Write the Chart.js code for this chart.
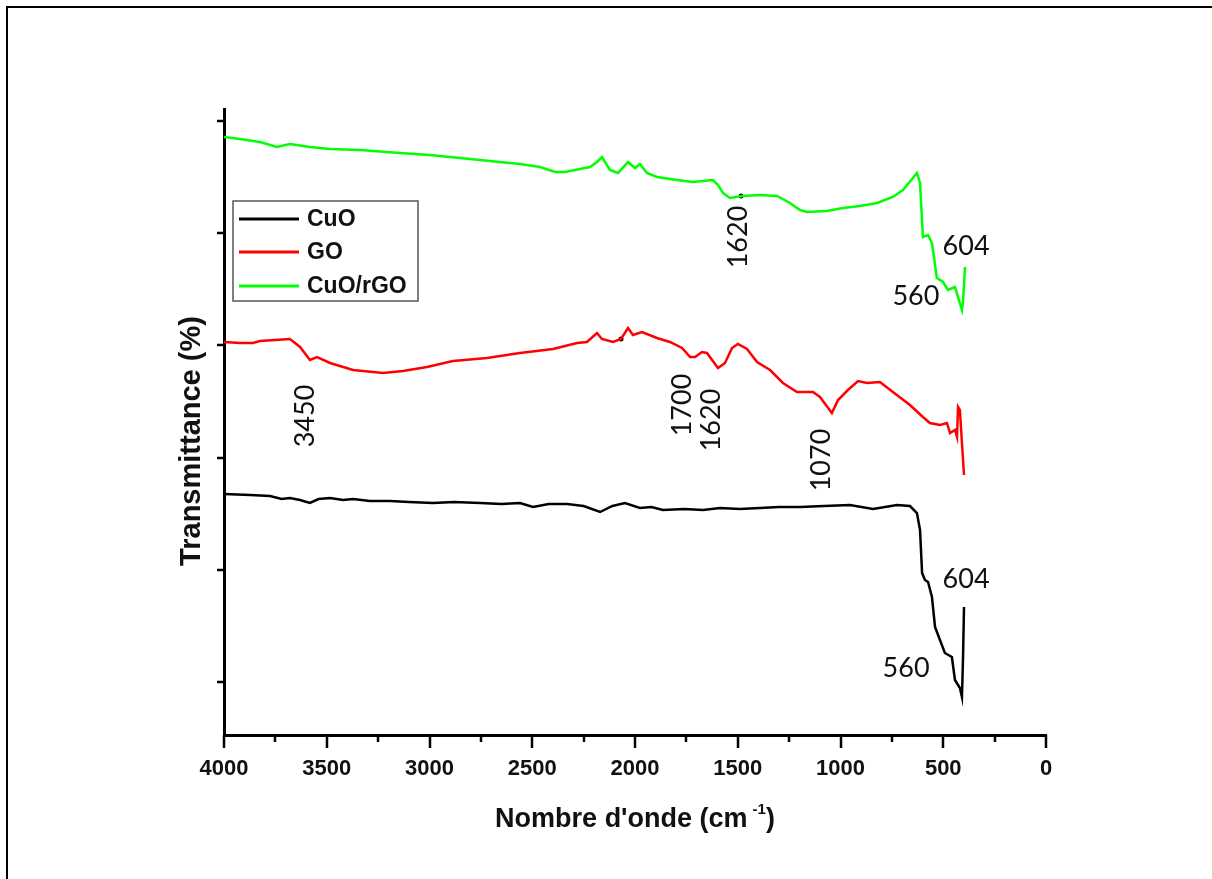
<!DOCTYPE html>
<html><head><meta charset="utf-8">
<script src="https://cdn.jsdelivr.net/npm/chart.js@4.4.1/dist/chart.umd.min.js"></script>
<style>html,body{margin:0;padding:0;background:#fff;}canvas{display:block;}</style>
</head><body>
<canvas id="c" width="1212" height="879"></canvas>
<script>
// ---- data (wavenumber in cm-1, transmittance in arbitrary offset units) ----
const seriesNames = ['CuO', 'GO', 'CuO/rGO'];
const seriesColors = ['#000000', '#ff0000', '#00ff00'];

const cuoWavenumber = [4000,3873,3776,3720,3679,3630,3582,3540,3484,3420,3372,3290,3192,3100,2983,2880,2754,2650,2560,2496,2420,2331,2250,2170,2110,2049,1976,1920,1864,1760,1669,1586,1490,1392,1300,1197,1080,954,842,725,662,628,613,603,589,574,555,540,516,492,458,443,419,409,404,399];
const cuoT = [241,240,239,236,237,235,232,236,237,235,236,234,234,233,232,233,232,231,232,228,231,231,229,223,229,232,227,228,225,226,225,227,226,227,228,228,229,230,226,230,229,222,205,162,155,153,138,108,95,82,78,55,47,38,75,128];

const goWavenumber = [4000,3922,3859,3825,3752,3679,3630,3582,3547,3484,3372,3226,3129,3012,2886,2720,2560,2399,2282,2234,2185,2161,2107,2068,2034,2010,1966,1893,1830,1771,1732,1708,1674,1650,1596,1562,1528,1499,1455,1406,1343,1280,1212,1134,1100,1042,1012,964,915,871,808,745,662,599,565,516,482,467,443,433,428,419,409,399];
const goT = [393,392,392,394,395,396,388,375,378,372,365,362,364,368,374,377,382,386,392,393,402,396,393,396,407,400,403,397,393,387,378,378,383,382,367,372,387,391,386,373,365,352,343,343,338,322,335,345,354,352,353,343,330,318,312,310,312,302,305,298,328,325,292,260];

const rgoWavenumber = [4000,3922,3825,3742,3679,3582,3484,3338,3144,2998,2852,2657,2560,2462,2389,2341,2268,2219,2185,2161,2122,2083,2034,2000,1976,1942,1893,1796,1718,1621,1596,1572,1538,1479,1392,1309,1246,1197,1163,1066,988,905,822,745,696,628,613,599,574,555,531,501,477,443,409,404,394];
const rgoT = [598,596,593,588,591,588,586,585,582,580,577,573,571,568,563,563,566,568,573,578,565,562,573,567,571,562,558,555,553,555,550,542,537,539,540,539,532,525,523,524,527,529,532,538,545,562,552,498,500,492,457,453,445,448,425,433,468];

const markerWavenumber = [1484, 2068];
const markerT = [539, 396];

const xTickLabels = [4000,3500,3000,2500,2000,1500,1000,500,0];
const yTickValues = [53,165,277,390,502,614];

const annotationText = ['1620','604','560','3450','1700','1620','1070','604','560'];
const annotationWavenumber = [1499,389,633,3606,1771,1630,1095,389,681];
const annotationT = [498,489,439,319,330,315,275,156,67];
const annotationRotated = [true,false,false,true,true,true,true,false,false];

const xTitle = "Nombre d'onde (cm";
const xTitleSup = "-1";
const xTitleEnd = ")";
const yTitle = "Transmittance (%)";

// ---- build ----
function pts(xs, ys){ return xs.map((x,i)=>({x:x, y:ys[i]})); }
const seriesData = [pts(cuoWavenumber,cuoT), pts(goWavenumber,goT), pts(rgoWavenumber,rgoT)];

const decor = {
  id: 'decor',
  beforeDraw(chart){
    const ctx = chart.ctx;
    ctx.save();
    ctx.fillStyle = '#fff';
    ctx.fillRect(0,0,chart.width,chart.height);
    ctx.strokeStyle = '#000'; ctx.lineWidth = 2;
    ctx.beginPath(); ctx.moveTo(7, chart.height); ctx.lineTo(7, 7); ctx.lineTo(chart.width, 7); ctx.stroke();
    ctx.restore();
  },
  afterDraw(chart){
    const ctx = chart.ctx, xs = chart.scales.x, ys = chart.scales.y, a = chart.chartArea;
    ctx.save();
    // ticks
    ctx.strokeStyle = '#000'; ctx.lineWidth = 2.5; ctx.lineCap = 'butt';
    for (let v = 0; v <= 4000; v += 250) {
      const px = Math.round(xs.getPixelForValue(v));
      const len = (v % 500 === 0) ? 13 : 7;
      ctx.beginPath(); ctx.moveTo(px, a.bottom); ctx.lineTo(px, a.bottom + len); ctx.stroke();
    }
    yTickValues.forEach(v => {
      const py = Math.round(ys.getPixelForValue(v));
      ctx.beginPath(); ctx.moveTo(a.left - 7, py); ctx.lineTo(a.left, py); ctx.stroke();
    });
    // x title
    ctx.fillStyle = '#111';
    ctx.textBaseline = 'alphabetic'; ctx.textAlign = 'left';
    const mainFont = 'bold 27px "Liberation Sans", Arial, sans-serif';
    const supFont = 'bold 15px "Liberation Sans", Arial, sans-serif';
    ctx.font = mainFont; const w1 = ctx.measureText(xTitle).width; const w3 = ctx.measureText(xTitleEnd).width;
    ctx.font = supFont; const w2 = ctx.measureText(xTitleSup).width;
    const gap = 5;
    const total = w1 + gap + w2 + w3;
    let sx = (a.left + a.right) / 2 - total / 2;
    const base = a.bottom + 92;
    ctx.font = mainFont; ctx.fillText(xTitle, sx, base);
    ctx.font = supFont; ctx.fillText(xTitleSup, sx + w1 + gap, base - 13);
    ctx.font = mainFont; ctx.fillText(xTitleEnd, sx + w1 + gap + w2, base);
    // y title
    ctx.save();
    ctx.translate(a.left - 24, (a.top + a.bottom) / 2 + 19);
    ctx.rotate(-Math.PI / 2);
    ctx.font = 'bold 29px "Liberation Sans", Arial, sans-serif';
    ctx.textAlign = 'center';
    ctx.fillText(yTitle, 0, 0);
    ctx.restore();
    // legend
    const bx = a.left + 9, by = a.top + 92, bw = 185, bh = 100;
    ctx.strokeStyle = '#555'; ctx.lineWidth = 1.5;
    ctx.strokeRect(bx, by, bw, bh);
    const rows = [18, 51, 85];
    ctx.font = 'bold 23px "Liberation Sans", Arial, sans-serif';
    ctx.textBaseline = 'middle'; ctx.textAlign = 'left';
    seriesNames.forEach((n, i) => {
      ctx.strokeStyle = seriesColors[i]; ctx.lineWidth = 3;
      ctx.beginPath(); ctx.moveTo(bx + 6, by + rows[i]); ctx.lineTo(bx + 66, by + rows[i]); ctx.stroke();
      ctx.fillStyle = '#111';
      ctx.fillText(n, bx + 74, by + rows[i] + 1);
    });
    // annotations
    ctx.font = '27px Lato, "Open Sans", sans-serif';
    ctx.fillStyle = '#111'; ctx.textAlign = 'center'; ctx.textBaseline = 'middle';
    annotationText.forEach((t, i) => {
      const px = xs.getPixelForValue(annotationWavenumber[i]);
      const py = ys.getPixelForValue(annotationT[i]);
      ctx.save();
      ctx.translate(px, py);
      if (annotationRotated[i]) ctx.rotate(-Math.PI / 2);
      ctx.fillText(t, 0, 0);
      ctx.restore();
    });
    ctx.restore();
  }
};

const datasets = seriesNames.map((n, i) => ({
  label: n, data: seriesData[i], borderColor: seriesColors[i], backgroundColor: seriesColors[i],
  borderWidth: 2.5, pointRadius: 0, tension: 0, fill: false
}));
datasets.push({ label: 'markers', data: pts(markerWavenumber, markerT), showLine: false,
  pointRadius: 2.5, pointBackgroundColor: '#000', pointBorderWidth: 0, borderColor: '#000' });

new Chart(document.getElementById('c'), {
  type: 'line',
  data: { datasets },
  options: {
    responsive: false, animation: false, devicePixelRatio: 1,
    layout: { padding: { top: 109, right: 166, left: 0, bottom: 0 } },
    plugins: { legend: { display: false }, tooltip: { enabled: false } },
    scales: {
      x: {
        type: 'linear', reverse: true, min: 0, max: 4000,
        grid: { display: false },
        border: { display: true, color: '#000', width: 3 },
        ticks: { stepSize: 500, autoSkip: false, maxRotation: 0, padding: 13, color: '#111',
          font: { family: '"Liberation Sans", Arial, sans-serif', size: 22, weight: 'bold' },
          callback: v => (xTickLabels.includes(v) ? String(v) : '') },
        afterFit: s => { s.height = 144; }
      },
      y: {
        type: 'linear', min: 0, max: 626,
        grid: { display: false },
        border: { display: true, color: '#000', width: 3 },
        ticks: { display: false },
        afterBuildTicks: s => { s.ticks = yTickValues.map(v => ({ value: v })); },
        afterFit: s => { s.width = 224; }
      }
    }
  },
  plugins: [decor]
});
</script>
</body></html>
